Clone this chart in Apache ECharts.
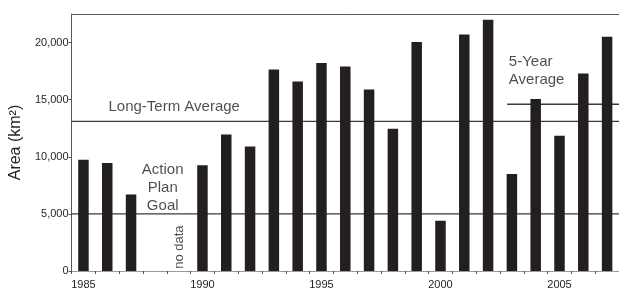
<!DOCTYPE html>
<html><head><meta charset="utf-8">
<script src="https://cdn.jsdelivr.net/npm/echarts@6/dist/echarts.min.js"></script>
<style>html,body{margin:0;padding:0;background:#fff}#c{width:619px;height:292px}</style>
</head><body><div id="c"></div>
<script>
const years = ['1985','1986','1987','1988','1989','1990','1991','1992','1993','1994','1995','1996','1997','1998','1999','2000','2001','2002','2003','2004','2005','2006','2007'];
const areas = [9750,9450,6700,null,null,9250,11950,10900,17650,16600,18200,17900,15900,12450,20050,4400,20700,22000,8500,15050,11850,17300,20500];
const longTermAverage = 13100;
const actionPlanGoal = 5000;
const fiveYearAverage = 14600;
const yTicks = [0,5000,10000,15000,20000];
const xLabelYears = ['1985','1990','1995','2000','2005'];
const annotationTexts = ['Long-Term Average','Action\nPlan\nGoal','no data','5-Year\nAverage'];

// layout (positions in axis units), kept separate from data
const layout = {
  yMax: 22500,
  fiveYearStart: 17.8,
  ann: [
    {x:1.03, y:14370, pos:'right', align:'left', size:15, rotate:0},
    {x:3.33, y:7280, pos:'inside', align:'center', size:15, rotate:0},
    {x:4.04, y:2090, pos:'inside', align:'center', size:13, rotate:90},
    {x:17.85, y:17540, pos:'right', align:'left', size:15, rotate:0}
  ]
};
const FONT = "'Liberation Sans', Arial, Helvetica, sans-serif";
const INK = '#231f20';
const xMinV = -0.5, xMaxV = years.length - 0.5;

function lineSeries(pts){
  return {type:'line', xAxisIndex:1, yAxisIndex:0, data:pts, symbol:'none', silent:true, z:1,
    lineStyle:{color:'#3a3a3a', width:1.4}, animation:false};
}

const chart = echarts.init(document.getElementById('c'), null, {renderer:'canvas'});
chart.setOption({
  animation:false,
  grid:{left:65, right:0, top:14, bottom:21, containLabel:false},
  xAxis:[{
    type:'category', data:years, boundaryGap:true,
    axisLine:{show:true, onZero:false, lineStyle:{color:'#9a9a9a', width:1}},
    axisTick:{show:true, interval:0, length:3, lineStyle:{color:'#555'}},
    axisLabel:{interval:(i,v)=>xLabelYears.includes(v), color:INK, fontSize:11, fontFamily:FONT, margin:8},
    splitLine:{show:false}
  },{
    type:'value', min:xMinV, max:xMaxV, position:'top',
    axisLine:{show:true, onZero:false, lineStyle:{color:'#5a5a5a', width:1}},
    axisTick:{show:false}, axisLabel:{show:false}, splitLine:{show:false}
  }],
  yAxis:{
    type:'value', min:0, max:layout.yMax, interval:5000,
    name:'Area (km²)', nameLocation:'middle', nameGap:35,
    nameTextStyle:{fontSize:16, fontFamily:FONT, color:INK},
    axisLine:{show:true, onZero:false, lineStyle:{color:'#5a5a5a', width:1}},
    axisTick:{show:true, length:3, customValues:yTicks, lineStyle:{color:'#555'}},
    axisLabel:{customValues:yTicks, color:INK, fontSize:11, fontFamily:FONT, margin:3,
      formatter:v=>v.toLocaleString('en-US')},
    splitLine:{show:false}
  },
  series:[
    lineSeries([[xMinV,longTermAverage],[xMaxV,longTermAverage]]),
    lineSeries([[xMinV,actionPlanGoal],[xMaxV,actionPlanGoal]]),
    lineSeries([[layout.fiveYearStart,fiveYearAverage],[xMaxV,fiveYearAverage]]),
    {type:'bar', xAxisIndex:0, yAxisIndex:0, data:areas, barWidth:10.5, z:3,
      itemStyle:{color:INK}},
    {type:'scatter', xAxisIndex:1, yAxisIndex:0, silent:true, z:5, symbolSize:1,
      itemStyle:{color:'rgba(0,0,0,0)'},
      data: annotationTexts.map((t,i)=>{
        const a = layout.ann[i];
        return {value:[a.x,a.y], label:{show:true, formatter:t, position:a.pos, distance:0,
          align:a.align, verticalAlign:'middle', rotate:a.rotate, fontSize:a.size, lineHeight:18,
          fontFamily:FONT, color:INK}};
      })
    }
  ]
});
</script></body></html>
